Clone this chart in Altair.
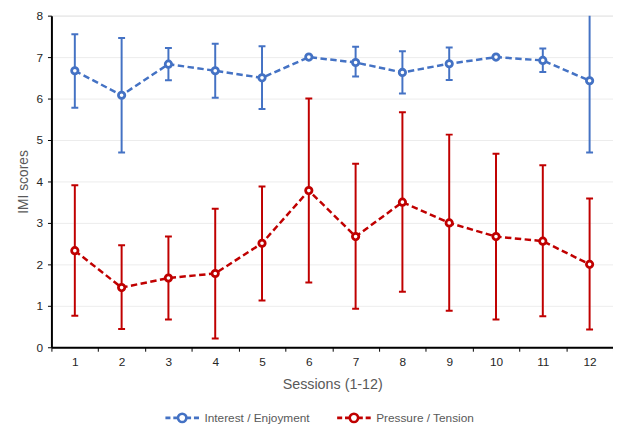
import altair as alt
import pandas as pd

sessions = list(range(1, 13))
series_names = ["Interest / Enjoyment", "Pressure / Tension"]
colors = ["#4472C4", "#C00000"]

interest_mean = [6.67, 6.08, 6.83, 6.67, 6.50, 7.00, 6.87, 6.63, 6.84, 7.00, 6.92, 6.43]
interest_hi = [7.55, 7.46, 7.22, 7.32, 7.26, 7.00, 7.25, 7.14, 7.23, 7.00, 7.21, 8.16]
interest_lo = [5.78, 4.70, 6.44, 6.02, 5.75, 7.00, 6.53, 6.12, 6.45, 7.00, 6.64, 4.70]

pressure_mean = [2.33, 1.44, 1.67, 1.78, 2.51, 3.78, 2.67, 3.50, 3.00, 2.67, 2.56, 2.00]
pressure_hi = [3.91, 2.46, 2.67, 3.34, 3.88, 6.00, 4.43, 5.67, 5.13, 4.67, 4.39, 3.59]
pressure_lo = [0.76, 0.44, 0.67, 0.21, 1.13, 1.56, 0.93, 1.34, 0.88, 0.67, 0.75, 0.43]

y_grid_values = [i * 0.5 for i in range(17)]

rows = []
for name, m, lo, hi in [
    (series_names[0], interest_mean, interest_lo, interest_hi),
    (series_names[1], pressure_mean, pressure_lo, pressure_hi),
]:
    for s, a, b, c in zip(sessions, m, lo, hi):
        rows.append({"session": s, "series": name, "mean": a, "lo": b, "hi": c})
df = pd.DataFrame(rows)

FONT = "Liberation Sans"

legend_path = (
    "M-1,0L-0.7,0M-0.53,0L-0.3,0"
    "M-0.25,0A0.25,0.25 0 1,0 0.25,0A0.25,0.25 0 1,0 -0.25,0"
    "M0.3,0L0.53,0M0.7,0L1,0"
)

color_scale = alt.Scale(domain=series_names, range=colors)
legend = alt.Legend(
    title=None,
    orient="none",
    direction="horizontal",
    legendX=114,
    legendY=389,
    padding=0,
    symbolType=legend_path,
    symbolSize=1156,
    symbolStrokeWidth=2.6,
    symbolFillColor="white",
    symbolOpacity=1,
    symbolDash=[100, 0],
    labelFont=FONT,
    labelFontSize=12,
    labelColor="#595959",
    labelOffset=4,
    columnPadding=22,
)
color_leg = alt.Color("series:N", scale=color_scale, legend=legend)
color_noleg = alt.Color("series:N", scale=color_scale, legend=None)

x_enc = alt.X(
    "session:O",
    title="Sessions (1-12)",
    axis=alt.Axis(
        labelAngle=0,
        tickBand="extent",
        domainColor="black",
        domainWidth=2,
        tickColor="black",
        tickWidth=1,
        tickSize=4,
        labelFont=FONT,
        labelFontSize=12,
        labelColor="#262626",
        labelPadding=5,
        titleFont=FONT,
        titleFontSize=14.5,
        titleFontWeight="normal",
        titleColor="#595959",
        titlePadding=11,
        grid=False,
    ),
)

y_scale = alt.Scale(domain=[0, 8], nice=False)
y_axis = alt.Axis(
    values=y_grid_values,
    labelExpr="datum.value % 1 === 0 ? datum.label : ''",
    tickColor={"condition": {"test": "datum.value % 1 === 0", "value": "black"}, "value": "transparent"},
    tickSize=4,
    tickWidth=1,
    domainColor="black",
    domainWidth=2,
    grid=True,
    gridColor="#ececec",
    gridWidth=1,
    labelFont=FONT,
    labelFontSize=12,
    labelColor="#262626",
    labelPadding=5,
    title="IMI scores",
    titleFont=FONT,
    titleFontSize=14,
    titleFontWeight="normal",
    titleColor="#595959",
    titlePadding=6,
)

base = alt.Chart(df)

rules = base.mark_rule(strokeWidth=2, clip=True).encode(
    x=x_enc,
    y=alt.Y("lo:Q", scale=y_scale, axis=y_axis),
    y2="hi:Q",
    color=color_noleg,
)

caps_lo = base.mark_tick(size=7, thickness=2, clip=True, opacity=1).encode(
    x=x_enc,
    y=alt.Y("lo:Q", scale=y_scale),
    color=color_noleg,
)
caps_hi = base.mark_tick(size=7, thickness=2, clip=True, opacity=1).encode(
    x=x_enc,
    y=alt.Y("hi:Q", scale=y_scale),
    color=color_noleg,
)

lines = base.mark_line(strokeWidth=2.5, strokeDash=[6.5, 3.5]).encode(
    x=x_enc,
    y=alt.Y("mean:Q", scale=y_scale),
    color=color_noleg,
)

points = base.mark_point(filled=False, fill="white", size=42, strokeWidth=2.8, opacity=1).encode(
    x=x_enc,
    y=alt.Y("mean:Q", scale=y_scale),
    color=color_leg,
)

chart = (
    alt.layer(rules, caps_lo, caps_hi, lines, points)
    .resolve_legend(color="independent")
    .properties(
        width=569,
        height=336,
        autosize=alt.AutoSizeParams(type="none"),
        padding={"left": 44, "top": 5, "right": 0, "bottom": 76},
    )
    .configure_view(stroke=None)
    .configure(background="white")
)

chart.save("out.html", embed_options={"renderer": "svg", "actions": False})
